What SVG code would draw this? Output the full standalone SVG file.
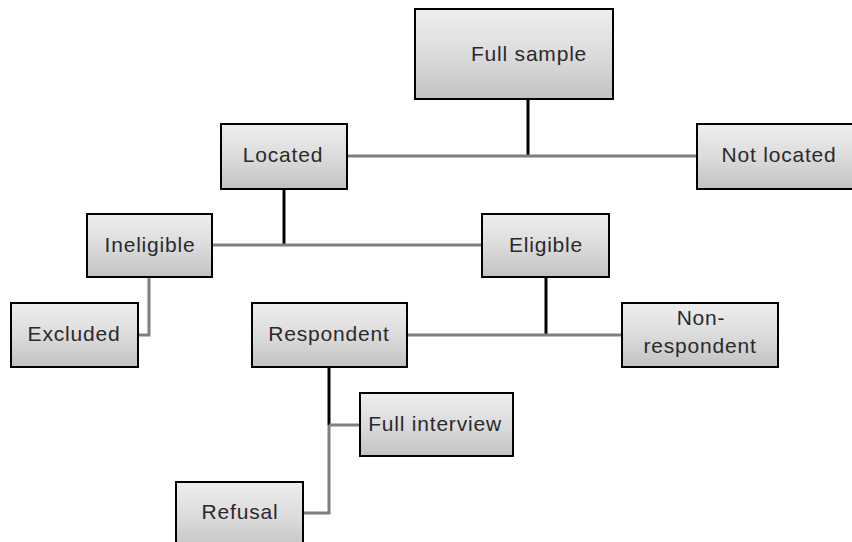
<svg xmlns="http://www.w3.org/2000/svg" width="852" height="542" viewBox="0 0 852 542">
  <defs>
    <linearGradient id="boxFill" x1="0" y1="0" x2="0" y2="1">
      <stop offset="0" stop-color="#eeeeee"/>
      <stop offset="0.5" stop-color="#dcdcdc"/>
      <stop offset="1" stop-color="#c2c2c2"/>
    </linearGradient>
  </defs>
  <style>
    .box { fill: url(#boxFill); stroke: #000; stroke-width: 2; }
    .lbl { font-family: "Liberation Sans", Arial, sans-serif; font-size: 21px; fill: #2a2a2a; text-anchor: middle; letter-spacing: 0.8px; }
    .v { stroke: #000; stroke-width: 3; fill: none; }
    .h { stroke: #7f7f7f; stroke-width: 3; fill: none; }
  </style>
  <rect width="852" height="542" fill="#ffffff"/>

  <!-- connectors -->
  <g id="connectors">
    <line class="v" x1="528" y1="99" x2="528" y2="157"/>
    <line class="h" x1="347" y1="156" x2="697" y2="156"/>
    <line class="v" x1="284" y1="189" x2="284" y2="245"/>
    <line class="h" x1="212" y1="245" x2="482" y2="245"/>
    <polyline class="h" points="149,277 149,335 138,335"/>
    <line class="v" x1="546" y1="277" x2="546" y2="335"/>
    <line class="h" x1="407" y1="335" x2="622" y2="335"/>
    <line class="v" x1="329" y1="367" x2="329" y2="425"/>
    <line class="h" x1="329" y1="425" x2="360" y2="425"/>
    <polyline class="h" points="329,425 329,513 303,513"/>
  </g>

  <!-- nodes -->
  <g id="full-sample">
    <rect class="box" x="415" y="9" width="198" height="90"/>
    <text class="lbl" x="529" y="61">Full sample</text>
  </g>
  <g id="located">
    <rect class="box" x="221" y="124" width="126" height="65"/>
    <text class="lbl" x="283" y="162">Located</text>
  </g>
  <g id="not-located">
    <rect class="box" x="697" y="124" width="166" height="65"/>
    <text class="lbl" x="779" y="162">Not located</text>
  </g>
  <g id="ineligible">
    <rect class="box" x="87" y="214" width="125" height="63"/>
    <text class="lbl" x="150" y="252">Ineligible</text>
  </g>
  <g id="eligible">
    <rect class="box" x="482" y="214" width="127" height="63"/>
    <text class="lbl" x="546" y="252">Eligible</text>
  </g>
  <g id="excluded">
    <rect class="box" x="11" y="303" width="127" height="64"/>
    <text class="lbl" x="74" y="341">Excluded</text>
  </g>
  <g id="respondent">
    <rect class="box" x="252" y="303" width="155" height="64"/>
    <text class="lbl" x="329" y="341">Respondent</text>
  </g>
  <g id="non-respondent">
    <rect class="box" x="622" y="303" width="156" height="64"/>
    <text class="lbl" x="701" y="325">Non-</text>
    <text class="lbl" x="700" y="353">respondent</text>
  </g>
  <g id="full-interview">
    <rect class="box" x="360" y="393" width="153" height="63"/>
    <text class="lbl" x="435" y="431">Full interview</text>
  </g>
  <g id="refusal">
    <rect class="box" x="176" y="482" width="127" height="70"/>
    <text class="lbl" x="240" y="519">Refusal</text>
  </g>
</svg>
